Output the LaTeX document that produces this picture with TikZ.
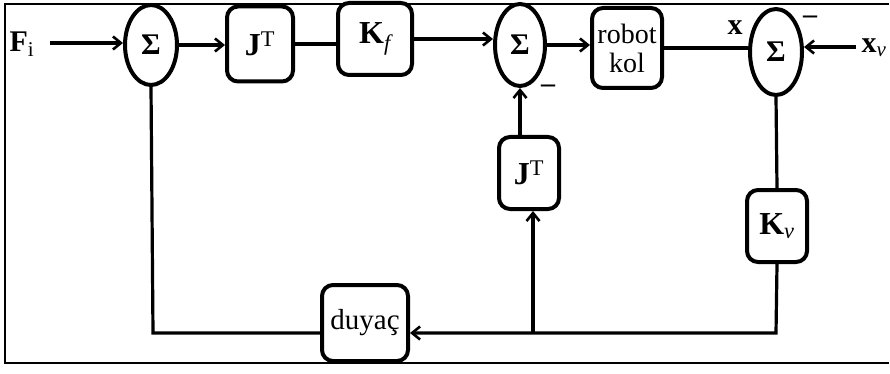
\documentclass[tikz,border=0pt]{standalone}
\usepackage{fontspec}
\setmainfont{Liberation Serif}
\usetikzlibrary{arrows.meta,shapes.geometric}
\begin{document}
\begin{tikzpicture}[x=1pt,y=-1pt,
  wire/.style={line width=3.2pt},
  arr/.style={wire,-{Straight Barb[length=8pt,width=13pt,line width=2.6pt]}},
  blk/.style={draw,line width=4pt,rounded corners=11pt,inner sep=0pt,font=\fontsize{32}{32}\selectfont\bfseries},
  sumn/.style={draw,ellipse,line width=4pt,inner sep=0pt,font=\fontsize{30}{30}\selectfont\bfseries},
  lab/.style={inner sep=0pt,font=\fontsize{30}{30}\selectfont\bfseries},
  mns/.style={inner sep=0pt,font=\fontsize{28}{28}\selectfont\bfseries}]
\useasboundingbox (0,0) rectangle (890,374);
\draw[line width=2.4pt] (889,4) -- (5,4) -- (5,363) -- (889,363);
% nodes
\node[sumn,minimum width=52pt,minimum height=80pt] (s1) at (151,45) {Σ};
\node[blk,minimum width=66pt,minimum height=75pt] (jt1) at (260,44) {J$^{\mathrm{T}}$};
\node[blk,minimum width=74pt,minimum height=72pt] (kf) at (375,39) {K$_{\mathit{f}}$};
\node[sumn,minimum width=50pt,minimum height=82pt] (s2) at (520,45) {Σ};
\node[blk,minimum width=70pt,minimum height=80pt,align=center,font=\fontsize{28}{29}\selectfont] (rob) at (627,48) {robot\\kol};
\node[sumn,minimum width=52pt,minimum height=86pt] (s3) at (776,52) {Σ};
\node[blk,minimum width=60pt,minimum height=72pt] (jt2) at (529,173) {J$^{\mathrm{T}}$};
\node[blk,minimum width=60pt,minimum height=72pt] (kv) at (777,226) {K$_{\mathit{v}}$};
\node[blk,minimum width=86pt,minimum height=76pt,font=\fontsize{29}{30}\selectfont] (du) at (365,323) {duyaç};
% labels
\node[lab] (fi) at (22,44) {F$_{\mathrm{i}}$};
\node[lab] (xv) at (874,48) {x$_{\mathit{v}}$};
\node[lab] (xl) at (735,28) {x};
\node[mns] (m1) at (548,89) {–};
\node[mns] (m2) at (810,20) {–};
% coordinates
\coordinate (fs) at (50,43);
\coordinate (xs) at (856,47);
\coordinate (cr) at (776,333);
\coordinate (jn) at (533,333);
\coordinate (cl) at (153,333);
% connectors
\draw[arr] (fs) -- (fs -| s1.west);
\draw[arr] (s1.east) -- (s1.east -| jt1.west);
\draw[wire] (jt1.east) -- (jt1.east -| kf.west);
\draw[arr] (kf.east) -- (kf.east -| s2.west);
\draw[arr] (s2.east) -- (s2.east -| rob.west);
\draw[wire] (rob.east) -- (rob.east -| s3.west);
\draw[arr] (xs) -- (xs -| s3.east);
\draw[arr] (jt2.north -| s2.south) -- (s2.south);
\draw[wire] (s3.south) -- (kv.north);
\draw[arr] (kv.south) -- (cr) -- (du.east |- cr);
\draw[arr] (jn) -- (jn |- jt2.south);
\draw[wire] (du.west |- cl) -- (cl) -- (s1.south);
\end{tikzpicture}
\end{document}
